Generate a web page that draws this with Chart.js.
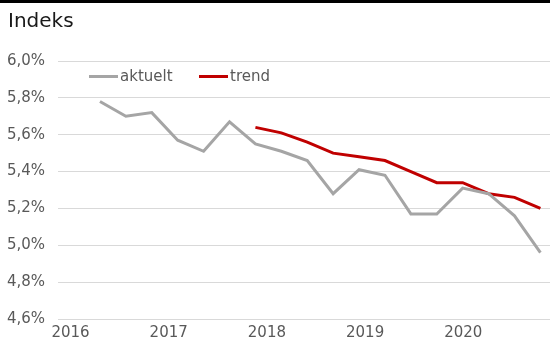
<!DOCTYPE html>
<html>
<head>
<meta charset="utf-8">
<script src="https://cdn.jsdelivr.net/npm/chart.js@4"></script>
<style>
  body { margin: 0; background: #fff; }
  #wrap { position: relative; width: 550px; height: 345px; overflow: hidden; }
  #topline { position: absolute; left: 0; top: 0; width: 550px; height: 3px; background: #000; }
  #title { position: absolute; left: 8px; top: 8px; font: 20px "DejaVu Sans", sans-serif; color: #1a1a1a; }
  .leg { position: absolute; top: 67px; font: 15px "DejaVu Sans", sans-serif; color: #595959; display: flex; align-items: center; }
  .leg span.sw { display: inline-block; width: 29px; height: 3px; margin-right: 2px; }
  canvas { position: absolute; left: 0; top: 0; }
</style>
</head>
<body>
<div id="wrap">
  <canvas id="c" width="550" height="345"></canvas>
  <div id="topline"></div>
  <div id="title">Indeks</div>
  <div class="leg" style="left:89px"><span class="sw" style="background:#a5a5a5"></span>aktuelt</div>
  <div class="leg" style="left:199px"><span class="sw" style="background:#c00000"></span>trend</div>
</div>
<script>
// quarterly observations (index 0 = first point)
const aktuelt = [5.78, 5.70, 5.72, 5.57, 5.51, 5.67, 5.55, 5.51, 5.46, 5.28, 5.41, 5.38, 5.17, 5.17, 5.31, 5.28, 5.16, 4.96];
const trend = [null, null, null, null, null, null, 5.64, 5.61, 5.56, 5.50, 5.48, 5.46, 5.40, 5.34, 5.34, 5.28, 5.26, 5.20];
const yearTicks = [2016, 2017, 2018, 2019, 2020];
const yTicks = [4.6, 4.8, 5.0, 5.2, 5.4, 5.6, 5.8, 6.0];

const toPoints = arr => arr.map((v, i) => ({ x: i, y: v }));
const tickFont = { family: 'DejaVu Sans', size: 15 };

new Chart(document.getElementById('c'), {
    type: 'line',
    data: {
        datasets: [
            {
                label: 'aktuelt',
                data: toPoints(aktuelt),
                borderColor: '#a5a5a5',
                borderWidth: 3,
                pointRadius: 0,
                tension: 0,
                xAxisID: 'x'
            },
            {
                label: 'trend',
                data: toPoints(trend),
                borderColor: '#c00000',
                borderWidth: 3,
                pointRadius: 0,
                tension: 0,
                xAxisID: 'x'
            }
        ]
    },
    options: {
        responsive: false,
        animation: false,
        layout: { padding: { top: 61, left: 0, right: 0, bottom: 0 } },
        plugins: {
            legend: { display: false },
            tooltip: { enabled: false }
        },
        scales: {
            x: {
                type: 'linear',
                display: false,
                min: -1.62,
                max: 17.37
            },
            yr: {
                type: 'linear',
                position: 'bottom',
                min: 2015.873,
                max: 2020.883,
                grid: { display: false, drawTicks: false },
                border: { display: false },
                afterBuildTicks: scale => { scale.ticks = yearTicks.map(v => ({ value: v })); },
                afterFit: scale => { scale.height = 26; },
                ticks: {
                    color: '#595959',
                    font: tickFont,
                    padding: 5,
                    maxRotation: 0,
                    callback: v => String(v)
                }
            },
            y: {
                min: 4.6,
                max: 6.0,
                grid: { color: '#d9d9d9', lineWidth: 1, drawTicks: false },
                border: { display: false },
                afterBuildTicks: scale => { scale.ticks = yTicks.map(v => ({ value: v })); },
                afterFit: scale => { scale.width = 58; },
                ticks: {
                    color: '#595959',
                    font: tickFont,
                    padding: 13,
                    callback: v => v.toFixed(1).replace('.', ',') + '%'
                }
            }
        }
    }
});
</script>
</body>
</html>
